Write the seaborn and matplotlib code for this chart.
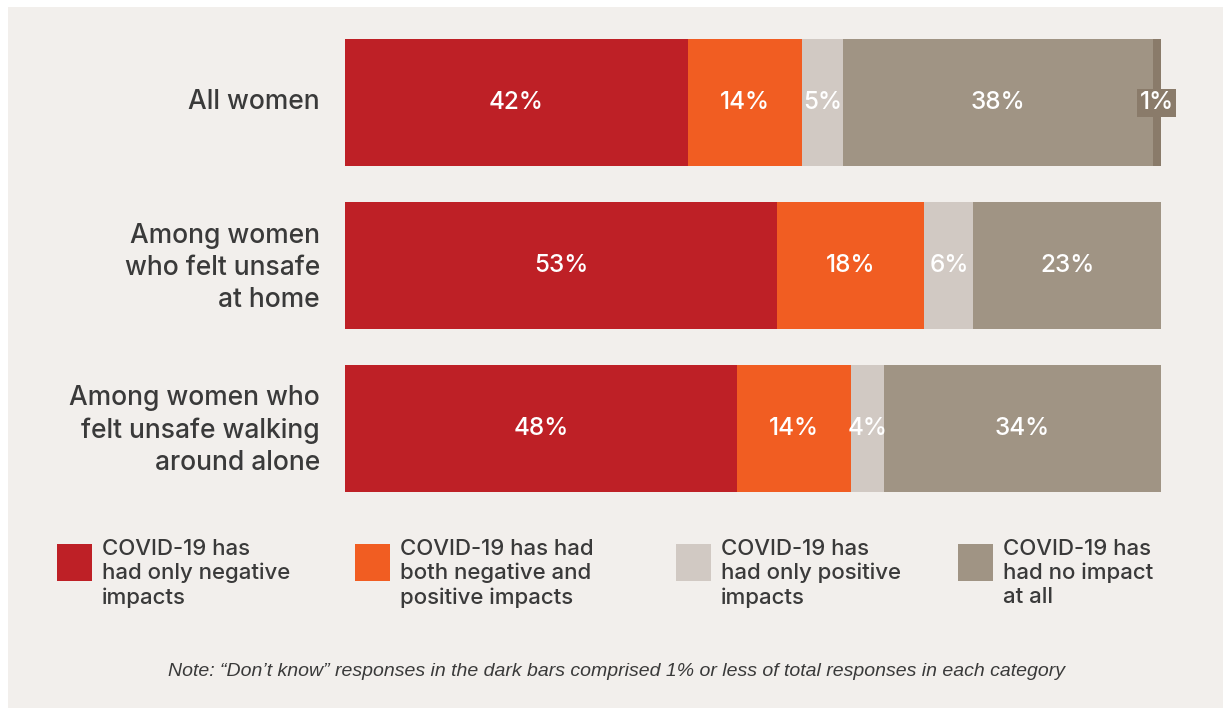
import numpy as np
import pandas as pd
import seaborn as sns
import matplotlib.pyplot as plt
from matplotlib.patches import Rectangle
from matplotlib.transforms import ScaledTranslation

# Survey groups (rows) and response shares in percent
groups = [
    "All women",
    "Among women\nwho felt unsafe\nat home",
    "Among women who\nfelt unsafe walking\naround alone",
]
only_negative = [42, 53, 48]
neg_and_pos = [14, 18, 14]
only_positive = [5, 6, 4]
no_impact = [38, 23, 34]
dont_know = [1, 0, 0]

response_labels = [
    "COVID-19 has\nhad only negative\nimpacts",
    "COVID-19 has had\nboth negative and\npositive impacts",
    "COVID-19 has\nhad only positive\nimpacts",
    "COVID-19 has\nhad no impact\nat all",
]
colors = ["#be2026", "#f15d22", "#d1c9c3", "#a09484", "#8a7b6a"]
note = ("Note: \u201cDon\u2019t know\u201d responses in the dark bars comprised 1% "
        "or less of total responses in each category")

series = [only_negative, neg_and_pos, only_positive, no_impact, dont_know]
names = ["neg", "both", "pos", "none", "dk"]

rows = []
for g_i, g in enumerate(groups):
    start = 0
    for s_name, s_vals in zip(names, series):
        v = s_vals[g_i]
        rows.append({"group": g, "series": s_name, "value": v,
                     "start": start, "end": start + v})
        start += v
df = pd.DataFrame(rows)

sns.set_theme(style="white")
plt.rcParams["font.family"] = ["Inter", "DejaVu Sans"]
TEXT = "#3a3a3a"

W, H = 1223, 708
fig = plt.figure(figsize=(W / 100, H / 100), dpi=100)
fig.patch.set_facecolor("white")
fig.add_artist(Rectangle((8 / W, 0), 1 - 8 / W, 1 - 7 / H,
                         transform=fig.transFigure, facecolor="#f2efec",
                         edgecolor="none", zorder=0))

ax = fig.add_axes([345 / W, 1 - 510 / H, (1161 - 345) / W, (510 - 21.5) / H])
ax.set_facecolor("none")

# Stacked bars: draw cumulative ends from last segment to first
for s_name, col in reversed(list(zip(names, colors))):
    sub = df[df["series"] == s_name]
    sns.barplot(data=sub, x="end", y="group", order=groups, color=col,
                saturation=1, width=0.78, orient="h", linewidth=0,
                edgecolor="none", ax=ax)

# Value labels
for _, r in df.iterrows():
    if r["value"] <= 0:
        continue
    y = groups.index(r["group"])
    x = r["start"] + r["value"] / 2
    txt = f"{r['value']:g}%"
    kw = dict(ha="center", va="center", color="white", fontsize=17.5,
              fontweight="medium")
    if r["series"] == "dk":
        ax.text(x, y, txt, **kw,
                bbox=dict(boxstyle="square,pad=0.1", facecolor=colors[4],
                          edgecolor="none"))
    else:
        ax.text(x, y, txt, **kw)

ax.set_xlim(0, 100)
ax.set_ylim(2.5, -0.5)
ax.set_xlabel("")
ax.set_ylabel("")
ax.set_xticks([])
for sp in ax.spines.values():
    sp.set_visible(False)
ax.tick_params(axis="y", length=0, pad=18)
shift_up = ScaledTranslation(0, 3 / 72, fig.dpi_scale_trans)
for lab in ax.get_yticklabels():
    lab.set_fontsize(19)
    lab.set_fontweight("medium")
    lab.set_color(TEXT)
    lab.set_multialignment("right")
    lab.set_linespacing(1.3)
    lab.set_transform(lab.get_transform() + shift_up)

# Legend
legend_x = [57, 355, 676, 958]
for lx, col, lab in zip(legend_x, colors[:4], response_labels):
    fig.add_artist(Rectangle((lx / W, 1 - 581 / H), 35 / W, 37 / H,
                             transform=fig.transFigure, facecolor=col,
                             edgecolor="none"))
    fig.text((lx + 45) / W, 1 - 539 / H, lab, ha="left", va="top",
             fontsize=16, fontweight="medium", color=TEXT, linespacing=1.24)

fig.text(617 / W, 1 - 671 / H, note, ha="center", va="center",
         fontsize=14, style="italic", color=TEXT,
         family=["Liberation Sans", "DejaVu Sans"])

fig.savefig("out.png", dpi=100, facecolor=fig.get_facecolor())
